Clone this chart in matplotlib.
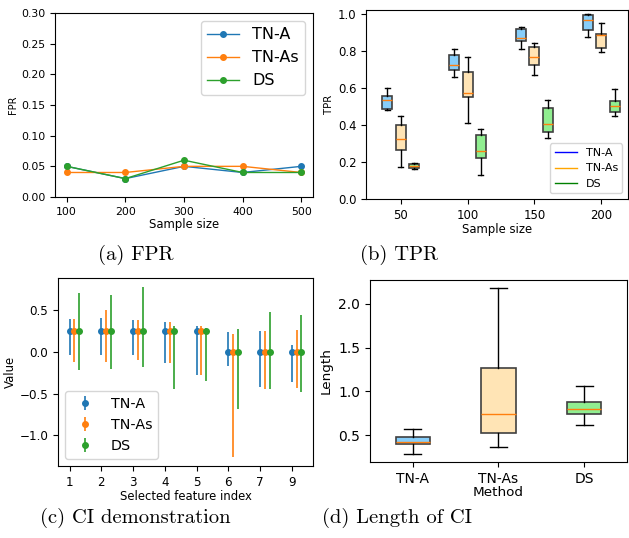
import numpy as np
import matplotlib
matplotlib.use("Agg")
import matplotlib.pyplot as plt
from matplotlib.lines import Line2D

methods = ["TN-A", "TN-As", "DS"]

# (a) FPR
fpr_n = [100, 200, 300, 400, 500]
fpr_tna = [0.05, 0.03, 0.05, 0.04, 0.05]
fpr_tnas = [0.04, 0.04, 0.05, 0.05, 0.04]
fpr_ds = [0.05, 0.03, 0.06, 0.04, 0.04]

# (b) TPR boxes: (whislo, q1, med, q3, whishi) per sample size
tpr_n = [50, 100, 150, 200]
tpr_tna = [(0.478, 0.488, 0.532, 0.555, 0.600),
           (0.658, 0.695, 0.724, 0.776, 0.810),
           (0.812, 0.853, 0.867, 0.918, 0.926),
           (0.875, 0.914, 0.968, 0.993, 1.000)]
tpr_tnas = [(0.174, 0.263, 0.326, 0.400, 0.450),
            (0.410, 0.552, 0.572, 0.684, 0.765),
            (0.667, 0.724, 0.767, 0.819, 0.840),
            (0.794, 0.815, 0.885, 0.892, 0.950)]
tpr_ds = [(0.161, 0.168, 0.179, 0.190, 0.192),
          (0.129, 0.219, 0.258, 0.346, 0.378),
          (0.328, 0.360, 0.403, 0.493, 0.536),
          (0.448, 0.468, 0.500, 0.527, 0.593)]

# (c) CI demonstration
feat_idx = ["1", "2", "3", "4", "5", "6", "7", "9"]
ci_est = [0.25, 0.25, 0.25, 0.25, 0.25, 0.0, 0.0, 0.0]
ci_tna_lo = [-0.045, -0.045, -0.037, -0.14, -0.28, -0.17, -0.42, -0.365]
ci_tna_hi = [0.39, 0.405, 0.38, 0.35, 0.31, 0.235, 0.245, 0.085]
ci_tnas_lo = [-0.12, -0.125, -0.10, -0.14, -0.28, -1.265, -0.44, -0.43]
ci_tnas_hi = [0.39, 0.50, 0.38, 0.35, 0.31, 0.215, 0.245, 0.26]
ci_ds_lo = [-0.22, -0.205, -0.18, -0.445, -0.35, -0.69, -0.44, -0.48]
ci_ds_hi = [0.70, 0.68, 0.78, 0.31, 0.285, 0.27, 0.47, 0.445]

# (d) CI length boxes
len_stats = [(0.286, 0.40, 0.42, 0.477, 0.57),
             (0.366, 0.518, 0.744, 1.27, 2.18),
             (0.62, 0.744, 0.797, 0.88, 1.064)]

box_colors = ["lightskyblue", "moccasin", "lightgreen"]


def to_stats(rows):
    return [dict(whislo=r[0], q1=r[1], med=r[2], q3=r[3], whishi=r[4], fliers=[])
            for r in rows]


fig = plt.figure(figsize=(6.29, 5.38), dpi=100)

# ---- (a) FPR ----
ax = fig.add_axes([0.0874, 0.6338, 0.4102, 0.342])
for vals, c, lab in zip([fpr_tna, fpr_tnas, fpr_ds], ["C0", "C1", "C2"], methods):
    ax.plot(fpr_n, vals, "-o", color=c, lw=1, ms=4, label=lab)
ax.set_ylim(0, 0.3)
ax.set_xticks(fpr_n)
ax.tick_params(labelsize=7.8)
ax.set_xlabel("Sample size", fontsize=8.4, labelpad=1)
ax.set_ylabel("FPR", fontsize=7, labelpad=2)
ax.legend(fontsize=11.5, loc="upper right")

# ---- (b) TPR ----
ax = fig.add_axes([0.5819, 0.6301, 0.4165, 0.3513])
groups = np.arange(1, len(tpr_n) + 1)
for k, (rows, fc) in enumerate(zip([tpr_tna, tpr_tnas, tpr_ds], box_colors)):
    ax.bxp(to_stats(rows), positions=groups + (k - 1) * 0.2, widths=0.15,
           patch_artist=True, showfliers=False, manage_ticks=False,
           boxprops=dict(facecolor=fc, edgecolor="#404040", lw=1.2),
           medianprops=dict(color="C1", lw=1),
           whiskerprops=dict(lw=1), capprops=dict(lw=1))
ax.set_xticks(groups)
ax.set_xticklabels(tpr_n)
ax.set_xlim(0.48, 4.40)
ax.set_ylim(0, 1.02)
ax.tick_params(labelsize=8.4)
ax.set_xlabel("Sample size", fontsize=8.4, labelpad=1)
ax.set_ylabel("TPR", fontsize=7.3, labelpad=3)
handles = [Line2D([], [], color=c, lw=1) for c in ["blue", "orange", "green"]]
ax.legend(handles, methods, fontsize=8, loc="lower right")

# ---- (c) CI demonstration ----
ax = fig.add_axes([0.0922, 0.1338, 0.4054, 0.3495])
xpos = np.arange(len(feat_idx))
est = np.array(ci_est)
for k, (lo, hi, c, lab) in enumerate(zip([ci_tna_lo, ci_tnas_lo, ci_ds_lo],
                                         [ci_tna_hi, ci_tnas_hi, ci_ds_hi],
                                         ["C0", "C1", "C2"], methods)):
    yerr = [est - np.array(lo), np.array(hi) - est]
    ax.errorbar(xpos + 0.15 * k, est, yerr=yerr, fmt="o", color=c, ms=4,
                lw=1.2, label=lab)
ax.set_xticks(xpos)
ax.set_xticklabels(feat_idx)
ax.tick_params(labelsize=8.6)
ax.set_xlabel("Selected feature index", fontsize=8.4, labelpad=1)
ax.set_ylabel("Value", fontsize=8.4, labelpad=2)
ax.legend(fontsize=10.3, loc="lower left")

# ---- (d) Length of CI ----
ax = fig.add_axes([0.5882, 0.1413, 0.4086, 0.3383])
bp = ax.bxp(to_stats(len_stats), positions=[1, 2, 3], widths=0.4,
            patch_artist=True, showfliers=False,
            boxprops=dict(edgecolor="#404040", lw=1.2),
            medianprops=dict(color="C1", lw=1))
for patch, fc in zip(bp["boxes"], box_colors):
    patch.set_facecolor(fc)
ax.set_xticks([1, 2, 3])
ax.set_xticklabels(methods)
ax.set_xlim(0.5, 3.5)
ax.tick_params(labelsize=10)
ax.set_xlabel("Method", fontsize=9.7, labelpad=0)
ax.set_ylabel("Length", fontsize=9.7)

# captions
cap = dict(family="cmr10", fontsize=14.8, ha="center", va="center")
fig.text(135.8 / 629, 1 - 255 / 538, "(a) FPR", **cap)
fig.text(399 / 629, 1 - 255 / 538, "(b) TPR", **cap)
fig.text(135.5 / 629, 1 - 518 / 538, "(c) CI demonstration", **cap)
fig.text(396.7 / 629, 1 - 518 / 538, "(d) Length of CI", **cap)

fig.savefig("out.png", dpi=100)
